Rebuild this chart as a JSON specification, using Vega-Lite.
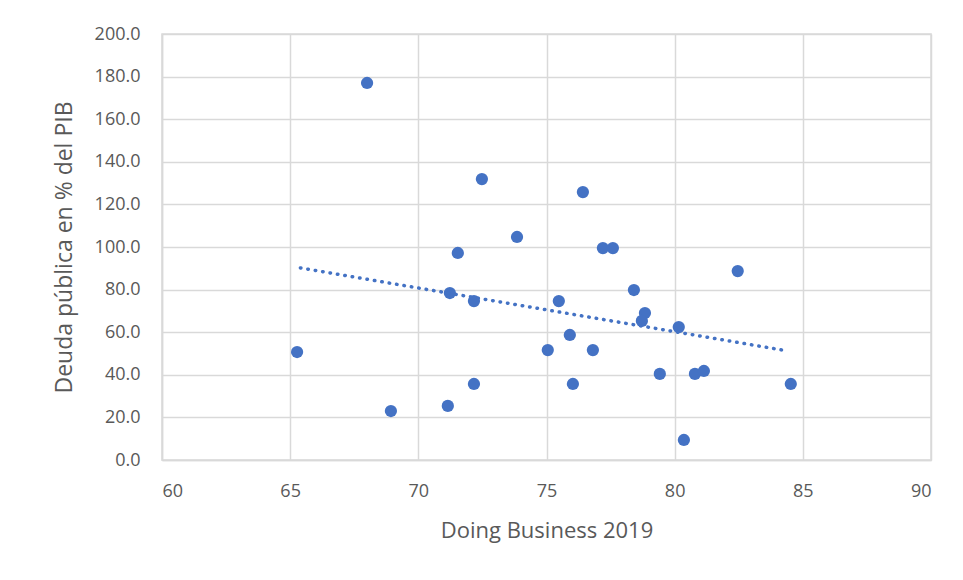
{
  "$schema": "https://vega.github.io/schema/vega-lite/v6.json",
  "autosize": "none",
  "width": 769,
  "height": 426,
  "padding": {"left": 162, "top": 34, "right": 32, "bottom": 120},
  "background": "white",
  "config": {
    "view": {"stroke": "#d9d9d9", "strokeWidth": 1.5},
    "font": "Open Sans"
  },
  "data": {
    "values": [
      {"db": 68.0, "deuda": 177.0},
      {"db": 65.27, "deuda": 50.7},
      {"db": 68.93, "deuda": 23.0},
      {"db": 71.15, "deuda": 25.4},
      {"db": 72.17, "deuda": 35.7},
      {"db": 71.23, "deuda": 78.4},
      {"db": 72.17, "deuda": 74.6},
      {"db": 71.54, "deuda": 97.2},
      {"db": 72.48, "deuda": 131.9},
      {"db": 73.85, "deuda": 104.7},
      {"db": 75.05, "deuda": 51.6},
      {"db": 75.48, "deuda": 74.6},
      {"db": 75.91, "deuda": 58.7},
      {"db": 76.03, "deuda": 35.7},
      {"db": 76.42, "deuda": 125.8},
      {"db": 76.81, "deuda": 51.6},
      {"db": 77.2, "deuda": 99.5},
      {"db": 77.59, "deuda": 99.5},
      {"db": 78.41, "deuda": 79.8},
      {"db": 78.84, "deuda": 69.0},
      {"db": 78.72, "deuda": 65.3},
      {"db": 79.42, "deuda": 40.4},
      {"db": 80.16, "deuda": 62.4},
      {"db": 80.36, "deuda": 9.4},
      {"db": 80.79, "deuda": 40.4},
      {"db": 81.14, "deuda": 41.8},
      {"db": 82.46, "deuda": 88.7},
      {"db": 84.53, "deuda": 35.7}
    ]
  },
  "layer": [
    {
      "mark": {"type": "point", "filled": true, "opacity": 1, "size": 150, "color": "#4472c4"},
      "encoding": {
        "x": {
          "field": "db", "type": "quantitative",
          "scale": {"domain": [60, 90], "nice": false, "zero": false},
          "axis": {
            "title": "Doing Business 2019", "values": [60, 65, 70, 75, 80, 85, 90],
            "grid": true, "gridColor": "#d9d9d9", "gridWidth": 1.5,
            "domainColor": "#d9d9d9", "domainWidth": 1.5, "ticks": false,
            "labelFontSize": 18, "labelColor": "#595959", "labelPadding": 22,
            "titleFontSize": 22, "titleFontWeight": "normal", "titleColor": "#595959", "titlePadding": 20
          }
        },
        "y": {
          "field": "deuda", "type": "quantitative",
          "scale": {"domain": [0, 200], "nice": false},
          "axis": {
            "title": "Deuda pública en % del PIB", "values": [0, 20, 40, 60, 80, 100, 120, 140, 160, 180, 200],
            "format": ".1f",
            "grid": true, "gridColor": "#d9d9d9", "gridWidth": 1.5,
            "domainColor": "#d9d9d9", "domainWidth": 1.5, "ticks": false,
            "labelFontSize": 18, "labelColor": "#595959", "labelPadding": 22,
            "titleFontSize": 23, "titleFontWeight": "normal", "titleColor": "#595959", "titlePadding": 18
          }
        }
      }
    },
    {
      "transform": [{"regression": "deuda", "on": "db", "extent": [65.4, 84.4]}],
      "mark": {"type": "line", "color": "#4472c4", "strokeWidth": 3.5, "strokeDash": [0.5, 7], "strokeCap": "round"},
      "encoding": {
        "x": {"field": "db", "type": "quantitative"},
        "y": {"field": "deuda", "type": "quantitative"}
      }
    }
  ]
}
